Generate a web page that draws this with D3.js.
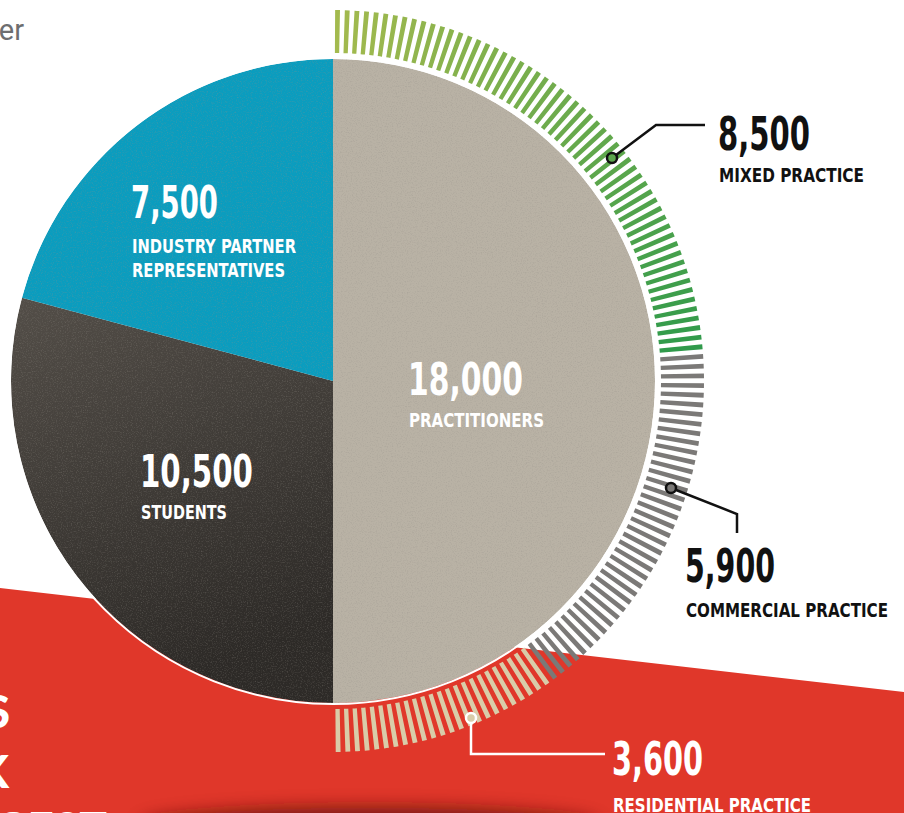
<!DOCTYPE html>
<html>
<head>
<meta charset="utf-8">
<script src="https://d3js.org/d3.v7.min.js"></script>
<style>
body { margin: 0; background: #fff; }
svg { display: block; }
.cond { font-family: "Liberation Sans Narrow", "DejaVu Sans Condensed", "Roboto Condensed", sans-serif; font-weight: bold; }
</style>
</head>
<body>
<svg width="904" height="813"></svg>
<script>
// data
var pieCategories = ["PRACTITIONERS", "STUDENTS", "INDUSTRY PARTNER|REPRESENTATIVES"];
var pieValues = [18000, 10500, 7500];
var ringCategories = ["MIXED PRACTICE", "COMMERCIAL PRACTICE", "RESIDENTIAL PRACTICE"];
var ringValues = [8500, 5900, 3600];
var sideWords = ["MEMBERS", "NETWORK", "LARGEST"];
var topWord = "member";
var stripeUnit = 150;   // one stripe per 150 people

// layout
var cx = 333, cy = 381, R = 322, rIn = 328, rOut = 371;
var pieColors = ["#b9b2a5", "url(#darkGrad)", "#0a9dbf"];
var pieLabelPos = [[408, 395, 115, 427, 135], [140, 487, 113, 519, 86], [131, 218, 87, 253, 164]];
var ringLabelPos = [[718, 150, 92, 182, 145], [685, 582, 90, 617, 202], [612, 775, 91, 812, 198]];
var ringInk = ["#111", "#111", "#fff"];
var fmt = d3.format(",");

var svg = d3.select("svg");
var defs = svg.append("defs");
var g1 = defs.append("linearGradient").attr("id", "darkGrad").attr("x1", 0).attr("y1", 0).attr("x2", 0.3).attr("y2", 1);
g1.append("stop").attr("offset", 0).attr("stop-color", "#534e48");
g1.append("stop").attr("offset", 1).attr("stop-color", "#2d2a27");
var f = defs.append("filter").attr("id", "noise");
f.append("feTurbulence").attr("type", "fractalNoise").attr("baseFrequency", 0.8).attr("numOctaves", 2).attr("seed", 3);
f.append("feColorMatrix").attr("values", "0 0 0 0 0.3  0 0 0 0 0.28  0 0 0 0 0.25  0 0 0 -2.2 1.15");
defs.append("filter").attr("id", "blur").attr("x", -0.5).attr("y", -2).attr("width", 2).attr("height", 5)
  .append("feGaussianBlur").attr("stdDeviation", 9);
defs.append("clipPath").attr("id", "pieClip").append("circle").attr("cx", cx).attr("cy", cy).attr("r", R);

// top-left cut word
svg.append("text").attr("x", 24).attr("y", 40).attr("text-anchor", "end")
  .style("font-family", "Roboto, sans-serif").style("font-size", "29px").style("fill", "#6d6e70")
  .text(topWord);

// red band
svg.append("path").attr("d", "M0,588 L904,692 L904,813 L0,813 Z").attr("fill", "#e0372a");
svg.append("ellipse").attr("cx", 370).attr("cy", 826).attr("rx", 230).attr("ry", 18)
  .attr("fill", "#5e1610").attr("opacity", 0.85).attr("filter", "url(#blur)");

// side words (cut off by the left edge, as in the original page)
svg.selectAll(".side").data(sideWords).enter().append("text")
  .attr("class", "side")
  .attr("x", function(d, i) { return [10, 9, 107][i]; })
  .attr("y", function(d, i) { return [728, 788, 845][i]; })
  .attr("text-anchor", "end")
  .style("font-family", "Lato, 'Open Sans', sans-serif").style("font-weight", "900")
  .style("font-size", "46px").style("fill", "#fff")
  .text(function(d) { return d; });

// pie
var pie = d3.pie().sort(null).value(function(d) { return d; });
var arc = d3.arc().innerRadius(0).outerRadius(R);
var pg = svg.append("g").attr("transform", "translate(" + cx + "," + cy + ")");
pg.selectAll("path").data(pie(pieValues)).enter().append("path")
  .attr("d", arc)
  .attr("fill", function(d, i) { return pieColors[i]; });
svg.append("rect").attr("x", cx - R).attr("y", cy - R).attr("width", 2 * R).attr("height", 2 * R)
  .attr("clip-path", "url(#pieClip)").attr("filter", "url(#noise)").attr("opacity", 0.35);
pg.append("circle").attr("r", R + 1).attr("fill", "none").attr("stroke", "#fff").attr("stroke-width", 2);

// ring stripes
var ringTotal = d3.sum(ringValues);
var ang = d3.scaleLinear().domain([0, ringTotal]).range([0, Math.PI]);
var cum = d3.cumsum(ringValues);
var stripes = d3.range(0, ringTotal, stripeUnit).map(function(v) {
  var k = d3.bisectRight(cum, v);
  return { v: v, k: k };
});
var greenScale = d3.scaleLinear().domain([0, ringValues[0]]).range(["#a3ba4e", "#2f9a4b"]);
var ringColor = function(s) {
  if (s.k == 0) return greenScale(s.v);
  if (s.k == 1) return "#7b7977";
  return "#d9cca9";
};
var stripeArc = d3.arc().innerRadius(rIn).outerRadius(rOut)
  .startAngle(function(s) { return ang(s.v + stripeUnit * 0.22); })
  .endAngle(function(s) { return ang(s.v + stripeUnit * 0.72); });
pg.selectAll(".stripe").data(stripes).enter().append("path")
  .attr("class", "stripe")
  .attr("d", stripeArc)
  .attr("fill", ringColor);

// pie labels
pieCategories.forEach(function(c, i) {
  var p = pieLabelPos[i];
  svg.append("text").attr("class", "cond").attr("x", p[0]).attr("y", p[1])
    .attr("textLength", p[2]).attr("lengthAdjust", "spacingAndGlyphs")
    .style("font-size", "44px").style("fill", "#fff").text(fmt(pieValues[i]));
  c.split("|").forEach(function(line, j) {
    svg.append("text").attr("class", "cond").attr("x", p[0] + 1).attr("y", p[3] + j * 24)
      .attr("textLength", j == 0 ? p[4] : p[4] - 11).attr("lengthAdjust", "spacingAndGlyphs")
      .style("font-size", "20px").style("fill", "#fff").text(line);
  });
});

// ring labels
ringCategories.forEach(function(c, i) {
  var p = ringLabelPos[i];
  svg.append("text").attr("class", "cond").attr("x", p[0]).attr("y", p[1])
    .attr("textLength", p[2]).attr("lengthAdjust", "spacingAndGlyphs")
    .style("font-size", "47px").style("fill", ringInk[i]).text(fmt(ringValues[i]));
  svg.append("text").attr("class", "cond").attr("x", p[0] + 1).attr("y", p[3])
    .attr("textLength", p[4]).attr("lengthAdjust", "spacingAndGlyphs")
    .style("font-size", "20px").style("fill", ringInk[i]).text(c);
});

// connectors
var conn = [
  [[612, 158], [656, 125], [705, 125]],
  [[671, 488], [737, 514], [737, 533]],
  [[471, 718], [471, 754], [605, 754]]
];
conn.forEach(function(pts, i) {
  svg.append("path").attr("d", d3.line()(pts))
    .attr("fill", "none").attr("stroke", ringInk[i]).attr("stroke-width", 2.5);
  svg.append("circle").attr("cx", pts[0][0]).attr("cy", pts[0][1]).attr("r", 5)
    .attr("fill", i == 2 ? "#d9cca9" : ringColor({ v: i == 0 ? 5200 : 10500, k: i }))
    .attr("stroke", ringInk[i]).attr("stroke-width", 2.5);
});
</script>
</body>
</html>
